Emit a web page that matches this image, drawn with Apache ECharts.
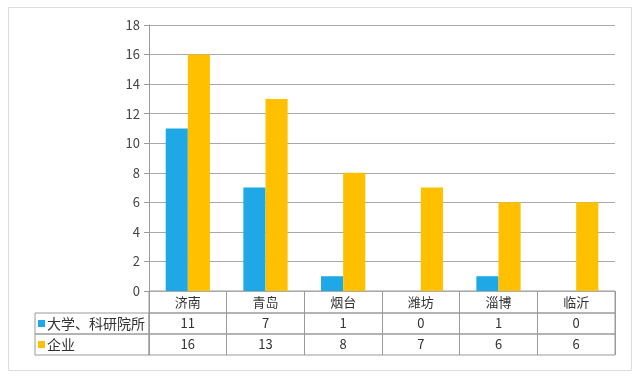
<!DOCTYPE html>
<html><head><meta charset="utf-8">
<script src="https://cdn.jsdelivr.net/npm/echarts@6/dist/echarts.min.js"></script>
<style>html,body{margin:0;padding:0;background:#fff}#c{width:640px;height:381px}</style>
</head><body><div id="c"></div>
<script>
const categories = ['济南','青岛','烟台','潍坊','淄博','临沂'];
const seriesNames = ['大学、科研院所','企业'];
const uniValues = [11,7,1,0,1,0];
const entValues = [16,13,8,7,6,6];
const yTicks = [0,2,4,6,8,10,12,14,16,18];

const colors = ['#1fa8e6','#ffc000'];
const lineC = '#9a9a9a';
const txtC = '#333';
const FONT = '"Noto Sans CJK SC", "Noto Sans", sans-serif';
const L = 149, R = 615, TOP = 25, ZERO = 291;
const rowTops = [291, 313, 334], rowH = [22, 21, 21];
const legL = 35;

function rowAxis(idx, data) {
  return {
    type: 'category', gridIndex: idx, data: data, position: 'bottom',
    axisLine: {show: false}, axisTick: {show: false},
    splitLine: {show: true, interval: 0, lineStyle: {color: lineC, width: 1}},
    axisLabel: {show: true, inside: true, interval: 0, margin: rowH[idx-1]/2, verticalAlign: 'middle',
      color: txtC, fontSize: 13, fontFamily: FONT}
  };
}
function rowY(idx) {
  return {type: 'value', gridIndex: idx, show: false};
}

const chart = echarts.init(document.getElementById('c'), null, {renderer: 'canvas'});
chart.setOption({
  animation: false,
  backgroundColor: '#fff',
  textStyle: {fontFamily: FONT},
  grid: [
    {left: L, width: R - L, top: TOP, height: ZERO - TOP, show: false},
    {left: L, width: R - L, top: rowTops[0], height: rowH[0], show: true, borderColor: lineC, borderWidth: 1, backgroundColor: 'transparent'},
    {left: L, width: R - L, top: rowTops[1], height: rowH[1], show: true, borderColor: lineC, borderWidth: 1, backgroundColor: 'transparent'},
    {left: L, width: R - L, top: rowTops[2], height: rowH[2], show: true, borderColor: lineC, borderWidth: 1, backgroundColor: 'transparent'},
    {left: legL, width: L - legL, top: rowTops[1], height: rowH[1], show: true, borderColor: lineC, borderWidth: 1, backgroundColor: 'transparent'},
    {left: legL, width: L - legL, top: rowTops[2], height: rowH[2], show: true, borderColor: lineC, borderWidth: 1, backgroundColor: 'transparent'}
  ],
  legend: {
    orient: 'vertical', left: legL + 3, top: rowTops[1], itemGap: 0, padding: 0,
    itemWidth: 7, itemHeight: 7, icon: 'rect',
    data: seriesNames,
    textStyle: {color: txtC, fontSize: 14, fontFamily: FONT, lineHeight: 21, padding: [0,0,0,-3]}
  },
  xAxis: [
    {type: 'category', gridIndex: 0, data: categories,
      axisLine: {show: false}, axisTick: {show: false}, axisLabel: {show: false}, splitLine: {show: false}},
    rowAxis(1, categories),
    rowAxis(2, uniValues.map(String)),
    rowAxis(3, entValues.map(String)),
    {type: 'category', gridIndex: 4, show: false, data: ['']},
    {type: 'category', gridIndex: 5, show: false, data: ['']}
  ],
  yAxis: [
    {type: 'value', gridIndex: 0, min: yTicks[0], max: yTicks[yTicks.length-1], interval: 2,
      axisLine: {show: true, lineStyle: {color: lineC}},
      axisTick: {show: true, length: 5, lineStyle: {color: lineC}},
      axisLabel: {color: '#444', fontSize: 13, margin: 9, fontFamily: FONT},
      splitLine: {show: true, lineStyle: {color: '#aaaaaa', width: 1}}},
    rowY(1), rowY(2), rowY(3),
    {type: 'value', gridIndex: 4, show: false},
    {type: 'value', gridIndex: 5, show: false}
  ],
  graphic: [
    {type: 'rect', shape: {x: 8.5, y: 7.5, width: 623, height: 363}, style: {fill: 'none', stroke: '#dddddd', lineWidth: 1}, silent: true, z: -1}
  ],
  series: [
    {name: seriesNames[0], type: 'bar', xAxisIndex: 0, yAxisIndex: 0, data: uniValues,
      itemStyle: {color: colors[0]}, barGap: '0%', barCategoryGap: '43%'},
    {name: seriesNames[1], type: 'bar', xAxisIndex: 0, yAxisIndex: 0, data: entValues,
      itemStyle: {color: colors[1]}, barGap: '0%', barCategoryGap: '43%'}
  ]
});
</script></body></html>
